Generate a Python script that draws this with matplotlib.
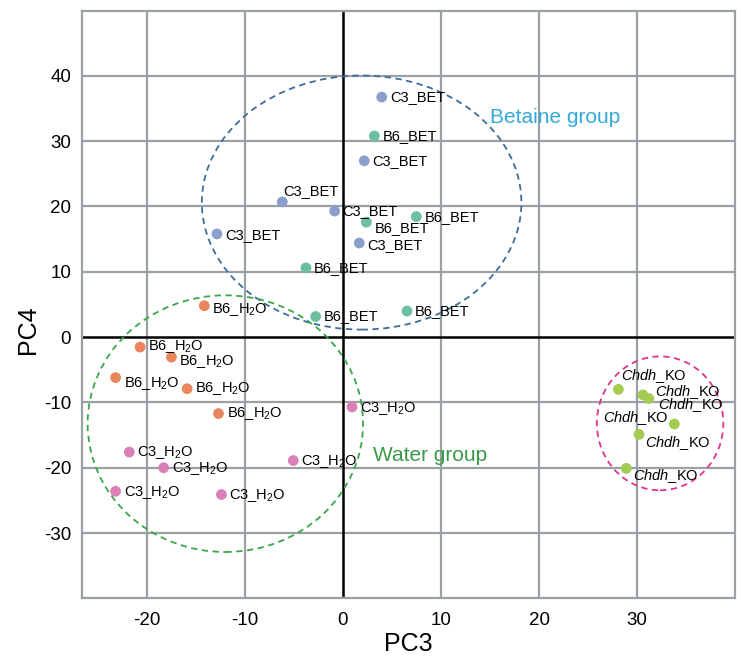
import matplotlib
matplotlib.use("Agg")
import matplotlib.pyplot as plt
from matplotlib.patches import Ellipse

plt.rcParams['font.family'] = ['Liberation Sans', 'DejaVu Sans']
plt.rcParams['mathtext.fontset'] = 'custom'
plt.rcParams['mathtext.rm'] = 'Liberation Sans'
plt.rcParams['mathtext.it'] = 'Liberation Sans:italic'
plt.rcParams['axes.unicode_minus'] = False

# PCA scores
c3_bet_x = [3.95, 2.17, -6.19, -0.85, -12.86, 1.66]
c3_bet_y = [36.75, 27.0, 20.7, 19.3, 15.8, 14.4]
b6_bet_x = [3.2, 2.38, 7.48, -3.78, -2.79, 6.53]
b6_bet_y = [30.8, 17.6, 18.45, 10.6, 3.16, 3.99]
b6_h2o_x = [-14.15, -20.7, -17.5, -23.2, -15.9, -12.7]
b6_h2o_y = [4.8, -1.53, -3.07, -6.2, -7.9, -11.7]
c3_h2o_x = [0.92, -21.8, -5.07, -18.3, -23.2, -12.4]
c3_h2o_y = [-10.7, -17.6, -18.9, -20.0, -23.6, -24.1]
chdh_x = [28.1, 30.6, 31.2, 33.8, 30.2, 28.9]
chdh_y = [-8.0, -8.85, -9.4, -13.3, -14.9, -20.1]

x_ticks = [-20, -10, 0, 10, 20, 30]
y_ticks = [-30, -20, -10, 0, 10, 20, 30, 40]

# label offsets in pixels (dx, dy, ha)
c3_bet_off = [(9, 0, 'left'), (8, 0, 'left'), (1, 11, 'left'), (8, 0, 'left'), (8, -1, 'left'), (8, -2, 'left')]
b6_bet_off = [(8, 0, 'left'), (8, -6, 'left'), (8, 0, 'left'), (8, 0, 'left'), (8, 0, 'left'), (8, 0, 'left')]
b6_h2o_off = [(8, -4, 'left'), (8, 1, 'left'), (8, -4, 'left'), (8, -6, 'left'), (8, 0, 'left'), (8, 0, 'left')]
c3_h2o_off = [(8, -2, 'left'), (8, 0, 'left'), (8, -1, 'left'), (8, -1, 'left'), (8, -1, 'left'), (8, -1, 'left')]
chdh_off = [(3, 13, 'left'), (12, 3, 'left'), (9, -7, 'left'), (-6, 6, 'right'), (6, -9, 'left'), (7, -8, 'left')]

groups = [
    (c3_bet_x, c3_bet_y, '#8c9fcc', 'C3_BET', c3_bet_off),
    (b6_bet_x, b6_bet_y, '#6cc0a0', 'B6_BET', b6_bet_off),
    (b6_h2o_x, b6_h2o_y, '#e9855f', 'B6_H$_2$O', b6_h2o_off),
    (c3_h2o_x, c3_h2o_y, '#da80b8', 'C3_H$_2$O', c3_h2o_off),
    (chdh_x, chdh_y, '#a4cb52', r'$\mathit{Chdh}$_KO', chdh_off),
]

fig = plt.figure(figsize=(7.41, 6.59), dpi=100)
ax = fig.add_axes([0.111, 0.092, 0.881, 0.892])

ax.set_xlim(-26.6, 40)
ax.set_ylim(-40, 50)

grid_col = '#9aa0a3'
for v in [-20, -10, 10, 20, 30]:
    ax.axvline(v, color=grid_col, lw=1.6, zorder=0)
for v in [-30, -20, -10, 10, 20, 30, 40]:
    ax.axhline(v, color=grid_col, lw=1.6, zorder=0)
ax.axvline(0, color='black', lw=1.8, zorder=1)
ax.axhline(0, color='black', lw=1.8, zorder=1)
for s in ax.spines.values():
    s.set_color(grid_col)
    s.set_linewidth(1.6)

for xs, ys, col, lab, offs in groups:
    ax.scatter(xs, ys, s=60, color=col, edgecolors='none', zorder=3)
    for x, y, (dx, dy, ha) in zip(xs, ys, offs):
        ax.annotate(lab, (x, y), xytext=(dx * 0.72, dy * 0.72), textcoords='offset points',
                    ha=ha, va='center', fontsize=10.5, zorder=4)

ax.add_patch(Ellipse((1.9, 20.6), 32.6, 38.9, fill=False, ls=(0, (3.5, 2.5)),
                     ec='#3c6c9c', lw=1.3, zorder=2))
ax.add_patch(Ellipse((-12.0, -13.25), 28.1, 39.3, fill=False, ls=(0, (3.5, 2.5)),
                     ec='#3aa64a', lw=1.3, zorder=2))
ax.add_patch(Ellipse((32.35, -13.2), 12.9, 20.5, fill=False, ls=(0, (3.5, 2.5)),
                     ec='#e0338a', lw=1.3, zorder=2))

ax.text(15.0, 33.7, 'Betaine group', color='#33a8db', fontsize=15, va='center', zorder=4)
ax.text(3.1, -18.2, 'Water group', color='#3a9a48', fontsize=15, va='center', zorder=4)

ax.set_xticks(x_ticks)
ax.set_yticks(y_ticks)
ax.tick_params(length=0, labelsize=13.5)
ax.tick_params(axis='x', pad=10)
ax.tick_params(axis='y', pad=8)
ax.set_xlabel('PC3', fontsize=18)
ax.set_ylabel('PC4', fontsize=18)
ax.xaxis.set_label_coords(0.5, -0.058)
ax.yaxis.set_label_coords(-0.064, 0.457)

fig.savefig('out.png', dpi=100)
